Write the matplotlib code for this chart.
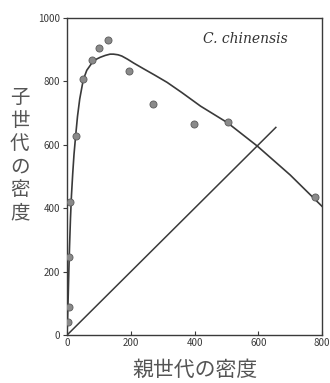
import matplotlib.pyplot as plt

# 親世代の密度 (x) と 子世代の密度 (y): 観測点
PARENT = [3, 5, 6, 10, 28, 50, 79, 101, 129, 195, 271, 397, 504, 778]
OFFSPRING = [40, 90, 245, 420, 627, 807, 867, 905, 930, 832, 728, 665, 671, 437]

# あてはめ曲線
CURVE_X = [0, 2, 4, 6, 8, 11, 14, 18, 22, 27, 33, 40, 51, 62, 78, 92, 104,
           120, 135, 146, 160, 172, 190, 209, 240, 275, 314, 360, 419, 503,
           597, 700, 800]
CURVE_Y = [0, 60, 130, 210, 280, 370, 440, 510, 570, 627, 690, 745, 805, 835,
           858, 870, 876, 882, 886, 886, 884, 880, 870, 858, 840, 820, 797,
           765, 722, 670, 596, 505, 406]

# 置換線 y = x
DIAG_X = [0, 655]
DIAG_Y = [0, 655]

X_TICKS = [0, 200, 400, 600, 800]
Y_TICKS = [0, 200, 400, 600, 800, 1000]

plt.rcParams['font.family'] = ['Noto Sans CJK JP', 'DejaVu Sans']

fig = plt.figure(figsize=(3.3, 3.83), dpi=100)
ax = fig.add_axes([0.203, 0.125, 0.773, 0.828])

ink = "#3a3a3a"
ax.plot(CURVE_X, CURVE_Y, color=ink, lw=1.2, zorder=2)
ax.plot(DIAG_X, DIAG_Y, color=ink, lw=1.1, zorder=2)
ax.scatter(PARENT, OFFSPRING, s=26, color="#8a8a8a", edgecolor="#5a5a5a",
           linewidth=0.6, zorder=3)

ax.set_xlim(0, 800)
ax.set_ylim(0, 1000)
ax.set_xticks(X_TICKS)
ax.set_yticks(Y_TICKS)
ax.tick_params(axis="x", direction="in", length=3, labelsize=7, colors=ink, pad=2)
ax.tick_params(axis="y", direction="out", length=3, labelsize=7, colors=ink, pad=2)
for sp in ax.spines.values():
    sp.set_color(ink)
    sp.set_linewidth(1.0)

ax.text(0.70, 0.955, "C. chinensis", transform=ax.transAxes, ha="center", va="top",
        fontsize=10, style="italic", family="DejaVu Serif", color="#333333")

fig.text(0.06, 0.595, "\n".join("子世代の密度"), ha="center", va="center",
         fontsize=14, color="#555555", linespacing=1.12)
fig.text(0.59, 0.035, "親世代の密度", ha="center", va="center",
         fontsize=15, color="#555555")

fig.savefig("out.png", dpi=100)
